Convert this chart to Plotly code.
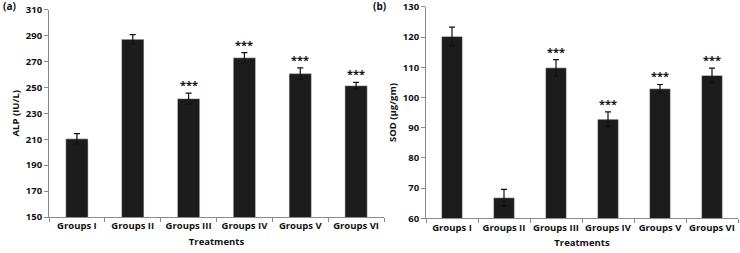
import plotly.graph_objects as go

groups = ["Groups I", "Groups II", "Groups III", "Groups IV", "Groups V", "Groups VI"]
alp_values = [210.3, 287.1, 241.3, 272.8, 260.6, 251.3]
alp_errors = [4.0, 3.6, 4.2, 4.0, 4.5, 2.5]
alp_marks = ["", "", "***", "***", "***", "***"]
sod_values = [120.2, 66.8, 109.8, 92.8, 102.9, 107.3]
sod_errors = [3.1, 2.8, 2.7, 2.4, 1.4, 2.4]
sod_marks = ["", "", "***", "***", "***", "***"]
alp_ticks = [150, 170, 190, 210, 230, 250, 270, 290, 310]
sod_ticks = [60, 70, 80, 90, 100, 110, 120, 130]

FONT = "Open Sans"
bar_color = "#1c1c1c"
axis_color = "#8a8a8a"

fig = go.Figure()
fig.add_trace(go.Bar(
    x=groups, y=alp_values, width=0.4, marker_color=bar_color,
    error_y=dict(type="data", array=alp_errors, color="#111", thickness=1.2, width=3),
    xaxis="x", yaxis="y", showlegend=False))
fig.add_trace(go.Bar(
    x=groups, y=sod_values, width=0.4, marker_color=bar_color,
    error_y=dict(type="data", array=sod_errors, color="#111", thickness=1.2, width=3),
    xaxis="x2", yaxis="y2", showlegend=False))

ann = []
for g, v, e, m in zip(groups, alp_values, alp_errors, alp_marks):
    if m:
        ann.append(dict(x=g, y=v + e, xref="x", yref="y", text="<b>" + m + "</b>", showarrow=False,
                        yanchor="bottom", yshift=-1, font=dict(family=FONT, size=11, color="#111")))
for g, v, e, m in zip(groups, sod_values, sod_errors, sod_marks):
    if m:
        ann.append(dict(x=g, y=v + e, xref="x2", yref="y2", text="<b>" + m + "</b>", showarrow=False,
                        yanchor="bottom", yshift=-1, font=dict(family=FONT, size=11, color="#111")))
ann.append(dict(x=1/740, y=1 - 6/253, xref="paper", yref="paper", text="<b>(a)</b>", showarrow=False,
                xanchor="left", yanchor="middle", font=dict(family=FONT, size=10, color="#111")))
ann.append(dict(x=371/740, y=1 - 6/253, xref="paper", yref="paper", text="<b>(b)</b>", showarrow=False,
                xanchor="left", yanchor="middle", font=dict(family=FONT, size=10, color="#111")))

tickfont = dict(family=FONT, size=9.5, color="#111", weight=700)
titlefont = dict(family=FONT, size=9.5, color="#111", weight=700)

common_x = dict(showline=True, linecolor=axis_color, linewidth=1, ticks="outside", ticklen=4,
                tickcolor=axis_color, tickson="boundaries", tickfont=tickfont, showgrid=False,
                tickangle=0, automargin=False,
                title=dict(text="Treatments", font=titlefont, standoff=6))
common_y = dict(showline=True, linecolor=axis_color, linewidth=1, ticks="outside", ticklen=4,
                tickcolor=axis_color, tickfont=tickfont, showgrid=False, zeroline=False,
                automargin=False, tickmode="array", ticklabeloverflow="allow")

fig.update_layout(
    width=740, height=253,
    margin=dict(l=0, r=0, t=0, b=0),
    paper_bgcolor="white", plot_bgcolor="white",
    font=dict(family=FONT),
    xaxis=dict(domain=[49/740, 384/740], anchor="y", **common_x),
    xaxis2=dict(domain=[426/740, 738/740], anchor="y2", **common_x),
    yaxis=dict(domain=[36/253, 243.5/253], anchor="x", range=[150, 310.05], tickvals=alp_ticks,
               title=dict(text="ALP (IU/L)", font=titlefont, standoff=4), **common_y),
    yaxis2=dict(domain=[34.7/253, 246.3/253], anchor="x2", range=[60, 130.05], tickvals=sod_ticks,
                title=dict(text="SOD (µg/gm)", font=titlefont, standoff=4), **common_y),
    annotations=ann,
)

fig.write_html("out.html", config={"displayModeBar": False},
               post_script="document.body.style.margin='0';document.body.style.overflow='hidden';")
